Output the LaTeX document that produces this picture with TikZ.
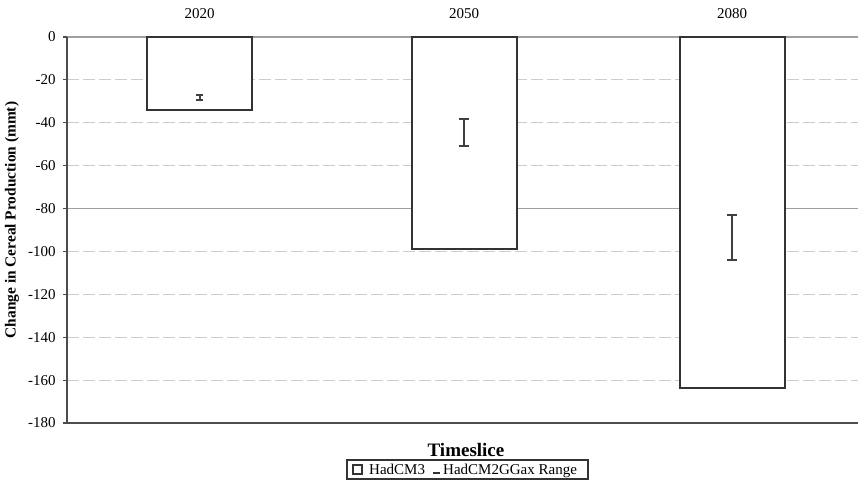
\documentclass[tikz,border=0pt]{standalone}
\usepackage{fontspec}
\setmainfont{Liberation Serif}
\usetikzlibrary{positioning,arrows.meta}

\begin{document}
\begin{tikzpicture}[x=0.5pt,y=-0.5pt,semithick,font=\fontsize{7.5}{9}\selectfont,
    grid/.style={gray!40,dash pattern=on 6pt off 2pt,line width=0.5pt},
    axis/.style={black!70,line width=0.6pt},
    bar/.style={draw=black!80,fill=white,line width=1pt,inner sep=0pt,outer sep=0pt,minimum width=52.5pt,anchor=north},
    errbar/.style={black!75,line width=1pt}]
    %   zero line at y=37, 2.1444 per unit downwards

    \fill[white] (0,0) rectangle (858,492);
    \useasboundingbox (0,0) rectangle (858,492);

    \foreach \v in {-20,-40,-60,-100,-120,-140,-160}
        \draw[grid] (67,{37-2.1444*\v}) -- (858,{37-2.1444*\v});
    \draw[gray!75,line width=0.6pt] (67,37) -- (858,37);
    \draw[gray!75,line width=0.6pt] (67,{37+2.1444*80}) -- (858,{37+2.1444*80});

    \foreach \v [count=\i] in {0,-20,...,-180} {
        \draw[axis] (63,{37-2.1444*\v}) -- (67,{37-2.1444*\v});
        \node[anchor=east] (tick\i) at (63,{37-2.1444*\v}) {\v};
    }
    \draw[axis] (67,37) -- (67,423) -- (858,423);

    \foreach \yr/\bx/\bdepth/\ehi/\elo/\capw in {2020/199.5/34/26.5/30/3.5pt, 2050/464/99/37.8/51.3/5pt, 2080/732/163.7/82.6/104.5/5pt} {
        \node[bar,minimum height={\bdepth*1.0722pt}] (bar\yr) at (\bx,37) {};
        \node (year\yr) [above=5.5pt of bar\yr] {\yr};
        \coordinate (hi\yr) at (\bx,{37+2.1444*\ehi});
        \coordinate (lo\yr) at (\bx,{37+2.1444*\elo});
        \draw[errbar,{Bar[width=\capw]}-{Bar[width=\capw]}] (hi\yr) -- (lo\yr);
    }

    \node[rotate=90,font=\fontsize{7.7}{9}\selectfont\bfseries] (ytitle) at (12,220) {Change in Cereal Production (mmt)};
    \node[font=\fontsize{9.5}{11}\selectfont\bfseries] (xtitle) at (466,450) {Timeslice};

    % legend
    \node[draw=black!80,line width=0.6pt,minimum width=120.5pt,minimum height=9.5pt,inner sep=0pt] (legend) at (467.5,469.5) {};
    \node[draw=black!80,line width=0.6pt,minimum size=4.5pt,inner sep=0pt] (legsq) [right=3pt of legend.west] {};
    \node[inner sep=0pt] (legone) [right=3pt of legsq] {HadCM3};
    \coordinate (legbarA) at ([xshift=3.5pt,yshift=1pt]legone.base east);
    \coordinate (legbarB) at ([xshift=7pt,yshift=1pt]legone.base east);
    \draw[black!80,line width=0.9pt] (legbarA) -- (legbarB);
    \node[inner sep=0pt,anchor=base west] (legtwo) at ([xshift=8.5pt]legone.base east) {HadCM2GGax Range};
\end{tikzpicture}
\end{document}
